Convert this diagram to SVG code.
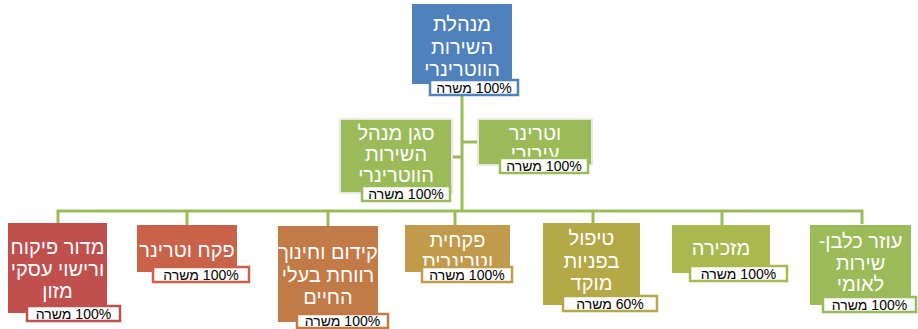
<svg xmlns="http://www.w3.org/2000/svg" width="918" height="329" viewBox="0 0 918 329">
<style>
  .node text.t { font-family: "Liberation Sans", "DejaVu Sans", "Noto Sans", sans-serif; font-size: 20px; fill: #ffffff; text-anchor: middle; }
  .node text.rtl { direction: rtl; unicode-bidi: embed; }
  .lbl rect { fill: #ffffff; stroke-width: 2.5; }
  .lbl text { font-family: "Liberation Sans", "DejaVu Sans", "Noto Sans", sans-serif; font-size: 14px; fill: #000000; text-anchor: middle; direction: rtl; unicode-bidi: embed; }
  .conn { stroke: #9bbb59; stroke-width: 3; fill: none; }
</style>
<defs>
  <clipPath id="clip-kidum"><rect x="278" y="226" width="100" height="96"/></clipPath>
</defs>
<rect width="918" height="329" fill="#ffffff"/>

<g id="connectors">
  <path class="conn" d="M462,95 V211"/>
  <path class="conn" d="M462,142 H478"/>
  <path class="conn" d="M452,157 H462"/>
  <path class="conn" d="M58,224 V211 H862 V224"/>
  <path class="conn" d="M187,211 V225"/>
  <path class="conn" d="M328,211 V226"/>
  <path class="conn" d="M455,211 V225"/>
  <path class="conn" d="M593,211 V223"/>
  <path class="conn" d="M722,211 V225"/>
</g>

<g id="node-director" class="node">
  <rect x="412" y="4" width="100" height="80" fill="#4f81bd"/>
  <text class="t" x="462" y="31">מנהלת</text>
  <text class="t" x="462" y="54">השירות</text>
  <text class="t" x="462" y="76">הווטרינרי</text>
  <g class="lbl"><rect x="430" y="80" width="88" height="15" stroke="#4f81bd"/><text x="474" y="92.5">100% משרה</text></g>
</g>

<g id="node-deputy" class="node">
  <rect x="340" y="119" width="112" height="74" fill="#9bbb59" stroke="#e6eadf" stroke-width="2"/>
  <text class="t" x="396" y="140">סגן מנהל</text>
  <text class="t" x="396" y="161">השירות</text>
  <text class="t" x="396" y="182">הווטרינרי</text>
  <g class="lbl"><rect x="362" y="186" width="88" height="15" stroke="#9bbb59"/><text x="406" y="198.5">100% משרה</text></g>
</g>

<g id="node-urban-vet" class="node">
  <rect x="478" y="119" width="114" height="46" fill="#9bbb59" stroke="#e6eadf" stroke-width="2"/>
  <text class="t" x="535" y="140">וטרינר</text>
  <text class="t" x="535" y="160">עירורי</text>
  <g class="lbl"><rect x="500" y="158" width="88" height="15" stroke="#9bbb59"/><text x="544" y="170.5">100% משרה</text></g>
</g>

<g id="node-food" class="node">
  <rect x="8" y="223" width="99" height="90" fill="#c0504d"/>
  <text class="t" x="57.5" y="254">מדור פיקוח</text>
  <text class="t" x="57.5" y="276">ורישוי עסקי</text>
  <text class="t" x="57.5" y="298">מזון</text>
  <g class="lbl"><rect x="27" y="306" width="93" height="15" stroke="#c0504d"/><text x="73.5" y="318.5">100% משרה</text></g>
</g>

<g id="node-inspector" class="node">
  <rect x="137" y="225" width="100" height="47" fill="#c8634a"/>
  <text class="t" x="187" y="257">פקח וטרינר</text>
  <g class="lbl"><rect x="153" y="267" width="96" height="15" stroke="#c8634a"/><text x="201" y="279.5">100% משרה</text></g>
</g>

<g id="node-welfare" class="node">
  <rect x="278" y="226" width="100" height="96" fill="#c27a47"/>
  <text class="t" x="328" y="259" clip-path="url(#clip-kidum)">קידום וחינוך</text>
  <text class="t" x="328" y="282">רווחת בעלי</text>
  <text class="t" x="328" y="304">החיים</text>
  <g class="lbl"><rect x="297" y="314" width="91" height="14" stroke="#c27a47"/><text x="342.5" y="326">100% משרה</text></g>
</g>

<g id="node-female-inspector" class="node">
  <rect x="405" y="225" width="105" height="47" fill="#c29a4b"/>
  <text class="t" x="457.5" y="247">פקחית</text>
  <text class="t" x="457.5" y="268">וטרינרית</text>
  <g class="lbl"><rect x="422" y="267" width="90" height="15" stroke="#c29a4b"/><text x="467" y="279.5">100% משרה</text></g>
</g>

<g id="node-call-center" class="node">
  <rect x="543" y="223" width="97" height="82" fill="#b5a847"/>
  <text class="t" x="591.5" y="245">טיפול</text>
  <text class="t" x="591.5" y="268">בפניות</text>
  <text class="t" x="591.5" y="290">מוקד</text>
  <g class="lbl"><rect x="563" y="296" width="94" height="15" stroke="#b5a847"/><text x="610" y="308.5">60% משרה</text></g>
</g>

<g id="node-secretary" class="node">
  <rect x="672" y="225" width="98" height="48" fill="#aab94f"/>
  <text class="t" x="721" y="255">מזכירה</text>
  <g class="lbl"><rect x="690" y="266" width="97" height="15" stroke="#aab94f"/><text x="738.5" y="278.5">100% משרה</text></g>
</g>

<g id="node-kennel" class="node">
  <rect x="810" y="225" width="101" height="80" fill="#9bbb59"/>
  <text class="t rtl" x="860.5" y="248">עוזר כלבן-</text>
  <text class="t" x="860.5" y="270">שירות</text>
  <text class="t" x="860.5" y="291">לאומי</text>
  <g class="lbl"><rect x="823" y="297" width="93" height="15" stroke="#9bbb59"/><text x="869.5" y="309.5">100% משרה</text></g>
</g>
</svg>
